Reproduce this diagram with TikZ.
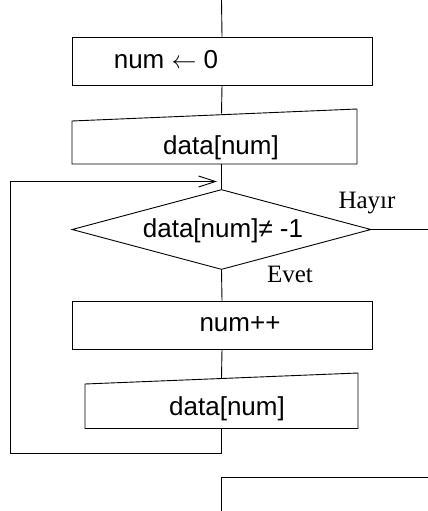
\documentclass[tikz,border=0pt]{standalone}
\usepackage{fontspec}
\setmainfont{Liberation Sans}
\newfontfamily\labelserif{Liberation Serif}
\usetikzlibrary{arrows.meta,shapes.geometric}
\begin{document}
\begin{tikzpicture}[x=1pt,y=-1pt,line width=0.9pt,
  proc/.style={draw,rectangle,minimum width=300pt,minimum height=48pt,inner sep=0pt},
  txt/.style={inner sep=0pt,anchor=base,font=\fontsize{26}{28}\selectfont},
  branch/.style={inner sep=0pt,anchor=base,font=\labelserif\fontsize{25}{27}\selectfont},
  cond/.style={draw,diamond,shape aspect=3.75,minimum width=299pt,minimum height=80pt,inner sep=0pt},
  flow/.style={draw},
  loopin/.style={-{Straight Barb[length=17pt,width=11pt,line width=0.9pt]}}]
\useasboundingbox (0,0) rectangle (428,511);

% process and condition boxes
\node[proc] (init) at (222,61) {};
\node[txt] (initT) at (166,68.5) {num {\fontsize{23}{25}\selectfont$\leftarrow$} 0};

\coordinate (in1tl) at (72,121);
\coordinate (in1tr) at (357,109);
\coordinate (in1br) at (357,164);
\coordinate (in1bl) at (72,164);
\draw (in1tl) -- (in1tr) -- (in1br) -- (in1bl) -- cycle;
\node[txt] (in1T) at (221,154) {data[num]};

\node[cond] (test) at (221.5,229.5) {};
\node[txt] (testT) at (223,237) {data[num]≠ -1};
\node[branch] (no) at (367,208) {Hayır};
\node[branch] (yes) at (290,282) {Evet};

\node[proc] (inc) at (222,325) {};
\node[txt] (incT) at (240,331.5) {num++};

\coordinate (in2tl) at (85,384);
\coordinate (in2tr) at (358,373);
\coordinate (in2br) at (358,428.5);
\coordinate (in2bl) at (85,428.5);
\draw (in2tl) -- (in2tr) -- (in2br) -- (in2bl) -- cycle;
\node[txt] (in2T) at (227,415) {data[num]};

% connectors
\coordinate (start) at (221.5,0);
\coordinate (in1top) at (221.5,113.5);
\coordinate (in2top) at (221.5,378);
\coordinate (in2bot) at (221.5,428.5);
\coordinate (loopR) at (221.5,453);
\coordinate (loopL) at (10,453);
\coordinate (loopU) at (10,181.5);
\coordinate (loopTip) at (217,181.5);
\coordinate (exitR) at (428,229.5);
\coordinate (endB) at (221.5,511);
\coordinate (endC) at (221.5,477);
\coordinate (endR) at (428,477);

\draw[flow] (start) -- (init.north);
\draw[flow] (init.south) -- (in1top);
\draw[flow] (221.5,164) -- (test.north);
\draw[flow] (test.east) -- (exitR);
\draw[flow] (test.south) -- (inc.north);
\draw[flow] (inc.south) -- (in2top);
\draw[flow] (in2bot) -- (loopR) -- (loopL) -- (loopU);
\draw[flow,loopin] (loopU) -- (loopTip);
\draw[flow] (endB) -- (endC) -- (endR);
\end{tikzpicture}
\end{document}
